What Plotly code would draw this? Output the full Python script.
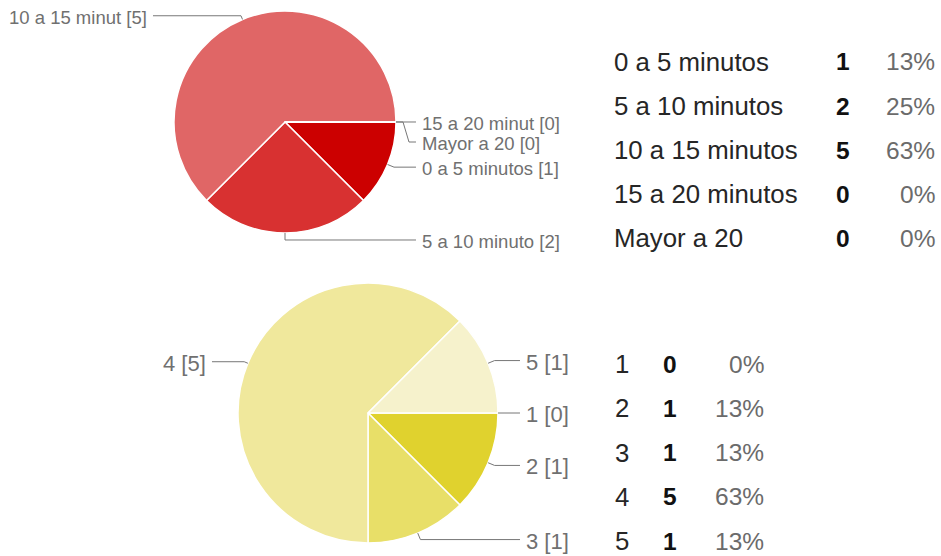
import math
import plotly.graph_objects as go

W, H = 941, 556

# ---------------- data ----------------
p1_labels = ["0 a 5 minutos", "5 a 10 minutos", "10 a 15 minutos", "15 a 20 minutos", "Mayor a 20"]
p1_short = ["0 a 5 minutos", "5 a 10 minuto", "10 a 15 minut", "15 a 20 minut", "Mayor a 20"]
p1_values = [1, 2, 5, 0, 0]
p1_pct = ["13%", "25%", "63%", "0%", "0%"]
p1_colors = ["#cc0000", "#d83131", "#e06666", "#e88f8f", "#f0b8b8"]

p2_labels = ["1", "2", "3", "4", "5"]
p2_values = [0, 1, 1, 5, 1]
p2_pct = ["0%", "13%", "13%", "63%", "13%"]
p2_colors = ["#d8c800", "#e0d22e", "#e8df68", "#f0e89c", "#f6f2cc"]

# ---------------- layout geometry (pixels) ----------------
P1 = dict(cx=285, cy=122, r=111, font=18.5, gap=20, right_off=20, left_off=21)
P2 = dict(cx=368, cy=413, r=130, font=22, gap=24, right_off=22, left_off=26)

LABEL_GRAY = "#707070"
LINE_GRAY = "#777777"


def X(px):
    return px / W


def Y(py):
    return 1 - py / H


fig = go.Figure()

shapes = []
annotations = []


def add_pie(g, labels, short, values, colors):
    cx, cy, r = g["cx"], g["cy"], g["r"]
    fig.add_trace(go.Pie(
        labels=labels, values=values, sort=False, direction="clockwise",
        rotation=90, textinfo="none", hoverinfo="label+value+percent",
        marker=dict(colors=colors, line=dict(color="white", width=1.5)),
        domain=dict(x=[X(cx - r), X(cx + r)], y=[Y(cy + r), Y(cy - r)]),
        showlegend=False,
    ))
    total = sum(values)
    start = 0.0
    items = []
    for i, v in enumerate(values):
        sweep = 360.0 * v / total
        mid = math.radians(start + sweep / 2)
        start += sweep
        dx, dy = math.cos(mid), math.sin(mid)
        ax, ay = cx + r * dx, cy + r * dy
        d = 4 if dx < -0.01 else 7
        ex, ey = ax + d * dx, ay + d * dy
        side = "left" if dx < -0.01 else "right"
        items.append(dict(i=i, ax=ax, ay=ay, ex=ex, ey=ey, side=side, ly=ey))
    for side in ("left", "right"):
        grp = sorted([it for it in items if it["side"] == side], key=lambda t: (round(t["ey"], 3), t["i"]))
        prev = None
        for it in grp:
            if prev is not None and it["ly"] < prev + g["gap"]:
                it["ly"] = prev + g["gap"]
            prev = it["ly"]
    for it in items:
        txt = f"{short[it['i']]} [{values[it['i']]}]"
        if it["side"] == "right":
            endx = cx + r + g["right_off"]
            sgn = 1
        else:
            endx = cx - r - g["left_off"]
            sgn = -1
        pts = [(it["ax"], it["ay"]), (it["ex"], it["ey"])]
        if abs(it["ly"] - it["ey"]) > 0.5:
            pts.append((it["ex"] + sgn * 6, it["ly"]))
        pts.append((endx, it["ly"]))
        path = "M " + " L ".join(f"{X(px):.5f},{Y(py):.5f}" for px, py in pts)
        shapes.append(dict(type="path", path=path, xref="paper", yref="paper",
                           line=dict(color=LINE_GRAY, width=1)))
        annotations.append(dict(
            x=X(endx + sgn * 4), y=Y(it["ly"] + 1.5), xref="paper", yref="paper",
            text=txt, showarrow=False, xanchor="left" if sgn > 0 else "right",
            yanchor="middle", font=dict(size=g["font"], color=LABEL_GRAY,
                                        family="Arial, Liberation Sans, sans-serif")))


add_pie(P1, p1_labels, p1_short, p1_values, p1_colors)
add_pie(P2, p2_labels, p2_labels, p2_values, p2_colors)

# ---------------- tables ----------------
LFONT = 25.8
TFONT = 24.5
FAM = "Arial, Liberation Sans, sans-serif"


def add_table(labels, values, pcts, x_lab, x_cnt, x_pct, y0, dy):
    for k, (lab, v, p) in enumerate(zip(labels, values, pcts)):
        yy = Y(y0 + k * dy)
        annotations.append(dict(x=X(x_lab), y=yy, xref="paper", yref="paper", text=lab,
                                showarrow=False, xanchor="left", yanchor="middle",
                                font=dict(size=LFONT, color="#262626", family=FAM)))
        annotations.append(dict(x=X(x_cnt), y=yy, xref="paper", yref="paper", text=f"<b>{v}</b>",
                                showarrow=False, xanchor="center", yanchor="middle",
                                font=dict(size=TFONT, color="#111111", family=FAM)))
        annotations.append(dict(x=X(x_pct), y=yy, xref="paper", yref="paper", text=p,
                                showarrow=False, xanchor="right", yanchor="middle",
                                font=dict(size=TFONT, color="#6b6b6b", family=FAM)))


add_table(p1_labels, p1_values, p1_pct, 612, 843, 937, 62, 44)
add_table(p2_labels, p2_values, p2_pct, 613, 670, 766, 364, 44.3)

fig.update_layout(
    width=W, height=H, margin=dict(l=0, r=0, t=0, b=0),
    paper_bgcolor="white", plot_bgcolor="white",
    shapes=shapes, annotations=annotations,
)

fig.write_html("out.html")
